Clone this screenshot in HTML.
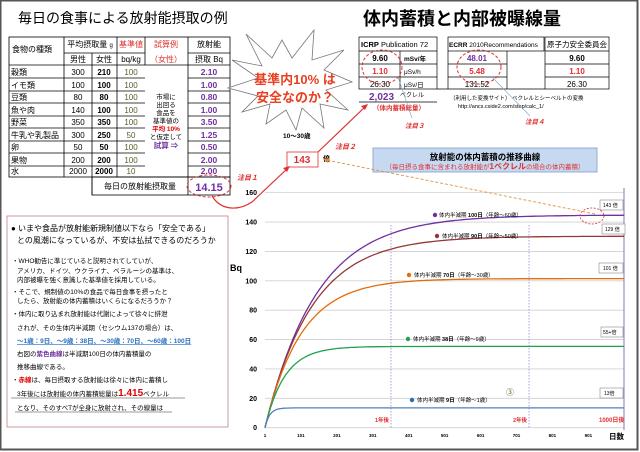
<!DOCTYPE html>
<html><head><meta charset="utf-8"><style>
html,body{margin:0;padding:0;background:#fff}
svg{display:block;font-family:"Liberation Sans","Noto Sans CJK JP",sans-serif}
</style></head><body>
<svg id="s" width="640" height="452" viewBox="0 0 640 452" xmlns="http://www.w3.org/2000/svg">
<rect x="0.5" y="0.5" width="637" height="449" fill="#fff" stroke="#555" stroke-width="2"/>
<text x="18" y="23" font-size="14">毎日の食事による放射能摂取の例</text>
<text x="363" y="25" font-size="18" font-weight="bold">体内蓄積と内部被曝線量</text>

<!-- left table -->
<g stroke="#000" stroke-width="0.8" fill="none">
<rect x="9" y="37" width="221" height="140"/>
<line x1="64" y1="37" x2="64" y2="177"/><line x1="92" y1="53" x2="92" y2="195"/>
<line x1="117" y1="37" x2="117" y2="177"/><line x1="145" y1="37" x2="145" y2="65"/>
<line x1="188" y1="37" x2="188" y2="195"/>
<line x1="64" y1="53" x2="145" y2="53"/><line x1="188" y1="53" x2="230" y2="53"/>
<line x1="9" y1="65" x2="230" y2="65"/>
<g id="rl"></g>
<rect x="92" y="177" width="138" height="18"/>
</g>
<g font-size="8" text-anchor="middle">
<text x="12" y="52" text-anchor="start">食物の種類</text>
<text x="90" y="47">平均摂取量 <tspan font-size="6">g</tspan></text>
<text x="131" y="47" fill="#e03030">基準値</text>
<text x="166" y="47" fill="#e03030">試算例</text>
<text x="209" y="47">放射能</text>
<text x="78" y="62">男性</text><text x="104" y="62">女性</text>
<text x="131" y="62">bq/kg</text><text x="166" y="62" fill="#e03030">（女性）</text>
<text x="209" y="62">摂取 Bq</text>
<g font-size="6.5"><text x="166" y="99">市場に</text><text x="166" y="107">出回る</text><text x="166" y="115">食品を</text><text x="166" y="123">基準値の</text>
<text x="166" y="131" fill="#e00000" font-weight="bold">平均 10%</text><text x="166" y="139">と仮定して</text>
<text x="166" y="148" fill="#7030a0" font-weight="bold" font-size="7.5">試算 ⇒</text></g>
<text x="140" y="189">毎日の放射能摂取量</text>
<text x="209" y="191" fill="#7030a0" font-size="11" font-weight="bold">14.15</text>
</g>
<g id="rows" font-size="8"></g>
<ellipse cx="209" cy="186" rx="22" ry="11" fill="none" stroke="#e03030" stroke-dasharray="3,2"/>

<!-- starburst -->
<polygon points="246,34 272,58 282,40 292,58 314,30 312,60 344,50 324,70 352,82 326,90 348,110 320,104 324,128 302,108 296,130 286,110 266,124 270,104 242,112 258,96 228,88 258,78 232,60 262,66" fill="#fff" stroke="#777" stroke-width="0.8"/>
<text x="295" y="84" font-size="13" font-weight="bold" fill="#e84020" text-anchor="middle">基準内10% は</text>
<text x="295" y="102" font-size="13" font-weight="bold" fill="#e84020" text-anchor="middle">安全なのか？</text>
<text x="283" y="138" font-size="6.5" font-weight="bold">10〜30歳</text>
<rect x="287" y="152" width="31" height="15" fill="#fff" stroke="#e03030" stroke-width="0.8"/>
<text x="302" y="163" font-size="10" font-weight="bold" fill="#e03030" text-anchor="middle">143</text>
<text x="323" y="161" font-size="7" font-weight="bold">倍</text>
<text x="335" y="149" font-size="7" font-weight="bold" font-style="italic" fill="#e03030">注目２</text>
<text x="237" y="180" font-size="7" font-weight="bold" font-style="italic" fill="#e03030">注目１</text>
<path d="M212,196 C222,212 240,210 252,202 L288,168" fill="none" stroke="#e03030" stroke-width="1.2"/>
<polygon points="290,166 283,168 287,172" fill="#e03030"/>
<line x1="318" y1="152" x2="366" y2="106" stroke="#e03030" stroke-width="1.2"/>
<polygon points="368,104 361,106 365,110" fill="#e03030"/>

<!-- right tables -->
<g stroke="#000" stroke-width="0.7" fill="none">
<rect x="359" y="37" width="78" height="52"/><line x1="359" y1="51" x2="437" y2="51"/><line x1="359" y1="64" x2="437" y2="64"/><line x1="359" y1="77" x2="437" y2="77"/><line x1="400" y1="51" x2="400" y2="89"/>
<rect x="448" y="37" width="96" height="14"/><line x1="448" y1="51" x2="448" y2="89"/><line x1="507" y1="51" x2="507" y2="89"/><line x1="448" y1="64" x2="507" y2="64"/><line x1="448" y1="77" x2="507" y2="77"/>
<rect x="545" y="37" width="64" height="52"/><line x1="545" y1="51" x2="609" y2="51"/><line x1="545" y1="64" x2="609" y2="64"/><line x1="545" y1="77" x2="609" y2="77"/>
<line x1="437" y1="89" x2="545" y2="89"/>
<line x1="359" y1="102" x2="437" y2="102"/>
</g>
<g font-size="7">
<text x="361" y="47" font-size="7.5"><tspan font-weight="bold">ICRP</tspan> Publication 72</text>
<text x="449" y="47" font-size="6.5"><tspan font-weight="bold">ECRR</tspan> 2010Recommendations</text>
<text x="577" y="47" text-anchor="middle" font-size="7.5">原子力安全委員会</text>
<text x="380" y="61" text-anchor="middle" font-weight="bold" font-size="8">9.60</text><text x="404" y="61" font-size="6.5" font-weight="bold">mSv/年</text>
<text x="380" y="74" text-anchor="middle" fill="#e03030" font-weight="bold" font-size="8">1.10</text><text x="404" y="74" font-size="6.5">μSv/h</text>
<text x="380" y="87" text-anchor="middle" font-size="8">26.30</text><text x="404" y="87" font-size="6.5">μSv/日</text>
<text x="477" y="61" text-anchor="middle" fill="#7030a0" font-weight="bold" font-size="8">48.01</text>
<text x="477" y="74" text-anchor="middle" fill="#e03030" font-weight="bold" font-size="8">5.48</text>
<text x="477" y="87" text-anchor="middle" font-size="8">131.52</text>
<text x="577" y="61" text-anchor="middle" font-weight="bold" font-size="8">9.60</text>
<text x="577" y="74" text-anchor="middle" fill="#e03030" font-weight="bold" font-size="8">1.10</text>
<text x="577" y="87" text-anchor="middle" font-size="8">26.30</text>
<text x="369" y="100" fill="#7030a0" font-weight="bold" font-size="10">2,023</text>
<text x="400" y="97" font-size="6">ベクレル</text>
<text x="373" y="110" fill="#e03030" font-weight="bold" font-size="6.5">（体内蓄積総量）</text>
<text x="450" y="100" font-size="5.5">（利用した変換サイト） ベクレルとシーベルトの変換</text>
<text x="458" y="108" font-size="5.5">http://ancs.cside2.com/step/calc_1/</text>
<text x="405" y="128" fill="#e03030" font-weight="bold" font-style="italic" font-size="6.5">注目３</text>
<text x="525" y="124" fill="#e03030" font-weight="bold" font-style="italic" font-size="6.5">注目４</text>
</g>
<ellipse cx="382" cy="67" rx="20" ry="17" fill="none" stroke="#e03030" stroke-dasharray="3,2"/>
<ellipse cx="479" cy="67" rx="22" ry="17" fill="none" stroke="#e03030" stroke-dasharray="3,2"/>
<line x1="398" y1="77" x2="412" y2="118" stroke="#7fa0c8" stroke-width="0.6"/>
<line x1="492" y1="77" x2="530" y2="116" stroke="#7fa0c8" stroke-width="0.6"/>

<rect x="373" y="148" width="224" height="24" fill="#c6d9f1" stroke="#7f9fc8" stroke-width="0.8"/>
<text x="485" y="160" font-size="8.5" font-weight="bold" text-anchor="middle">放射能の体内蓄積の推移曲線</text>
<text x="485" y="169" font-size="6.5" fill="#e03030" text-anchor="middle">（毎日摂る食事に含まれる放射能が<tspan font-weight="bold" font-size="8">1ベクレル</tspan>の場合の体内蓄積）</text>

<!-- left text box -->
<rect x="7" y="216" width="221" height="211" fill="#fff" stroke="#c08080" stroke-width="0.8"/>
<g font-size="7.3">
<text x="11" y="231" font-size="8">● いまや食品が放射能新規制値以下なら「安全である」</text>
<text x="17" y="243" font-size="8">との風潮になっているが、不安は払拭できるのだろうか</text>
<g font-size="6.5">
<text x="12" y="263">・WHO勧告に準じていると説明されてしていが、</text>
<text x="17" y="273">アメリカ、ドイツ、ウクライナ、ベラルーシの基準は、</text>
<text x="17" y="282">内部被曝を強く意識した基準値を採用している。</text>
<text x="12" y="294">・そこで、規制値の10%の食品で毎日食事を摂ったと</text>
<text x="17" y="303">したら、放射能の体内蓄積はいくらになるだろうか？</text>
<text x="12" y="316">・体内に取り込まれ放射能は代謝によって徐々に排泄</text>
<text x="17" y="330">されが、その生体内半減期（セシウム137の場合）は、</text>
<text x="17" y="343" fill="#2a70c0" font-weight="bold" text-decoration="underline">〜1歳：9日、〜9歳：38日、〜30歳：70日、〜60歳：100日</text>
<text x="17" y="356">右図の<tspan fill="#7030a0" font-weight="bold">紫色曲線</tspan>は半減期100日の体内蓄積量の</text>
<text x="17" y="369">推移曲線である。</text>
<text x="12" y="382">・<tspan fill="#e00000" font-weight="bold">赤線</tspan>は、毎日摂取する放射能は徐々に体内に蓄積し</text>
<text x="17" y="396">3年後には放射能の体内蓄積総量は<tspan fill="#e00000" font-weight="bold" font-size="10">1.415</tspan>ベクレル</text>
<text x="17" y="410">となり、そのすべTが全身に放射され、その線量は</text>
</g></g>
<line x1="11" y1="398" x2="185" y2="398" stroke="#333" stroke-width="0.6"/>
<line x1="15" y1="412" x2="172" y2="412" stroke="#333" stroke-width="0.6"/>

<!-- chart -->
<g id="grid" stroke="#d0d0d0" stroke-width="0.8"></g>
<g id="ylab" font-size="7" font-weight="bold" text-anchor="end"></g>
<g id="xlab" font-size="4.5" font-weight="bold" text-anchor="middle"></g>
<text x="230" y="271" font-size="9" font-weight="bold">Bq</text>
<text x="609" y="439" font-size="7.5" font-weight="bold">日数</text>
<line x1="391" y1="225" x2="391" y2="428" stroke="#8060c0" stroke-width="0.6" stroke-dasharray="1.5,1.5"/>
<line x1="529" y1="225" x2="529" y2="428" stroke="#8060c0" stroke-width="0.6" stroke-dasharray="1.5,1.5"/>
<line x1="624" y1="188" x2="624" y2="430" stroke="#9070c0" stroke-width="1"/>
<text x="375" y="422" font-size="5.5" fill="#e03030" font-weight="bold">1年後</text>
<text x="513" y="422" font-size="5.5" fill="#e03030" font-weight="bold">2年後</text>
<text x="599" y="422" font-size="6" fill="#e03030" font-weight="bold">1000日後</text>
<g id="curves" fill="none" stroke-width="1.3"></g>
<g font-size="5.5">
<circle cx="435" cy="215" r="2.2" fill="#7030a0"/><text x="439" y="217">体内半減期 <tspan font-weight="bold">100日</tspan>（年齢〜60歳）</text>
<circle cx="437" cy="236" r="2.2" fill="#953735"/><text x="442" y="238">体内半減期 <tspan font-weight="bold">90日</tspan>（年齢〜50歳）</text>
<circle cx="409" cy="275" r="2.2" fill="#e46c0a"/><text x="414" y="277">体内半減期 <tspan font-weight="bold">70日</tspan>（年齢〜30歳）</text>
<circle cx="408" cy="339" r="2.2" fill="#22a050"/><text x="413" y="341">体内半減期 <tspan font-weight="bold">38日</tspan>（年齢〜9歳）</text>
<circle cx="412" cy="400" r="2.2" fill="#2070c0"/><text x="417" y="402">体内半減期 <tspan font-weight="bold">9日</tspan>（年齢〜1歳）</text>
<text x="506" y="395" font-size="8" fill="#4a6a20">③</text>
</g>
<g font-size="5" stroke-width="0.6">
<rect x="600" y="200" width="23" height="10" fill="#fff" stroke="#888"/><text x="603" y="207">143 倍</text>
<rect x="602" y="224" width="23" height="10" fill="#fff" stroke="#888"/><text x="605" y="231">129 倍</text>
<rect x="599" y="263" width="24" height="10" fill="#fff" stroke="#888"/><text x="603" y="270">101 倍</text>
<rect x="601" y="327" width="22" height="10" fill="#fff" stroke="#888"/><text x="603" y="334">55+倍</text>
<rect x="600" y="388" width="23" height="10" fill="#fff" stroke="#888"/><text x="604" y="395">13倍</text>
</g>
<line x1="595" y1="214" x2="326" y2="160" stroke="#e09040" stroke-width="0.9" stroke-dasharray="3,2"/>
<polygon points="323,159 330,158 328,163" fill="#e09040"/>
<ellipse cx="592" cy="216" rx="12" ry="8" fill="none" stroke="#e03030" stroke-width="0.8" stroke-dasharray="2,1.5"/>
</svg>
<script>
var NS="http://www.w3.org/2000/svg";
function el(p,t,a,txt){var e=document.createElementNS(NS,t);for(var k in a)e.setAttribute(k,a[k]);if(txt!=null)e.textContent=txt;document.getElementById(p).appendChild(e);}
var rows=[["穀類",300,210,100,"2.10"],["イモ類",100,100,100,"1.00"],["豆類",80,80,100,"0.80"],["魚や肉",140,100,100,"1.00"],["野菜",350,350,100,"3.50"],["牛乳や乳製品",300,250,50,"1.25"],["卵",50,50,100,"0.50"],["果物",200,200,100,"2.00"],["水",2000,2000,10,"2.00"]];
var ys=[65,78,91,103,116,128,141,153,166,177];
for(var i=0;i<9;i++){var y=ys[i+1]-3;
 if(i<8){el("rl","line",{x1:9,y1:ys[i+1],x2:145,y2:ys[i+1]});el("rl","line",{x1:188,y1:ys[i+1],x2:230,y2:ys[i+1]});}
 el("rows","text",{x:11,y:y},rows[i][0]);
 el("rows","text",{x:78,y:y,"text-anchor":"middle"},rows[i][1]);
 el("rows","text",{x:104,y:y,"text-anchor":"middle","font-weight":"bold"},rows[i][2]);
 el("rows","text",{x:131,y:y,"text-anchor":"middle",fill:"#4f6228"},rows[i][3]);
 el("rows","text",{x:209,y:y,"text-anchor":"middle",fill:"#7030a0","font-weight":"bold","font-size":"8.5"},rows[i][4]);
}
function X(d){return 265+(d-1)*0.3593;} function Y(v){return 427.7-v*1.469;}
for(var v=0;v<=160;v+=20){el("grid","line",{x1:265,y1:Y(v),x2:624,y2:Y(v)});el("ylab","text",{x:257,y:Y(v)+2.5},v);}
for(var d=1;d<=901;d+=100){el("xlab","text",{x:X(d),y:437},d);}
var S=[[100,"#7030a0"],[90,"#953735"],[70,"#e46c0a"],[38,"#22a050"],[9,"#4f81bd"]];
S.forEach(function(s){var T=s[0],r=Math.pow(2,-1/T),p="";
 for(var t=0;t<=1000;t+=(t<60?2:10)){var a=(1-Math.pow(r,t))/(1-r);p+=(t?"L":"M")+X(t+1).toFixed(1)+","+Y(a).toFixed(1);}
 el("curves","path",{d:p,stroke:s[1]});});
</script>
</body></html>
